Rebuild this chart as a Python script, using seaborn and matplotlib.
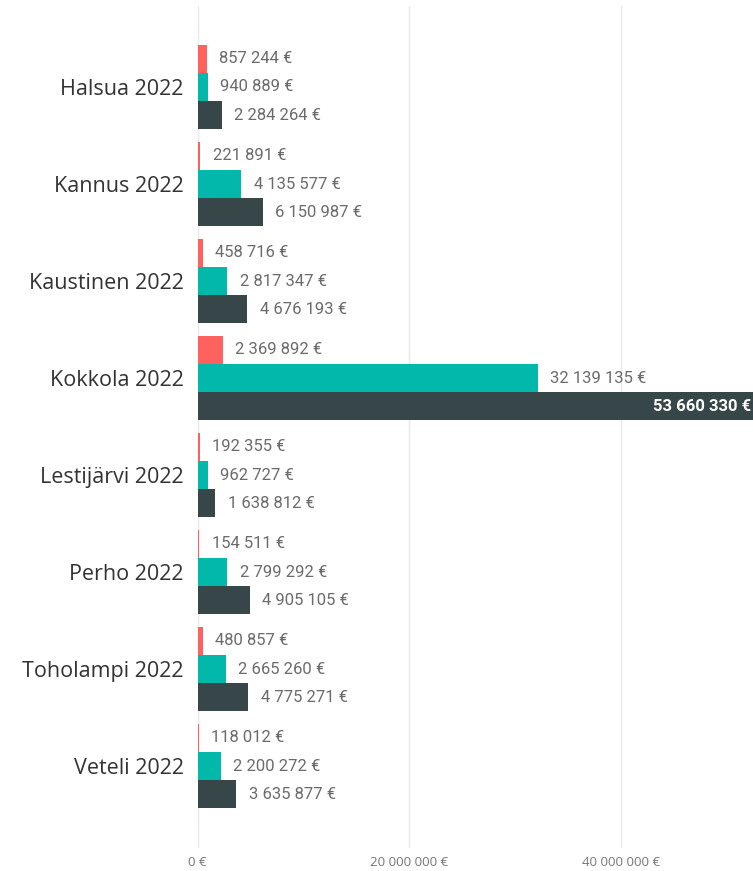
import matplotlib
matplotlib.use("Agg")
import matplotlib.pyplot as plt
import seaborn as sns
import pandas as pd

categories = ["Halsua 2022", "Kannus 2022", "Kaustinen 2022", "Kokkola 2022",
              "Lestijärvi 2022", "Perho 2022", "Toholampi 2022", "Veteli 2022"]
series_names = ["Sarja 1", "Sarja 2", "Sarja 3"]
series1 = [857244, 221891, 458716, 2369892, 192355, 154511, 480857, 118012]
series2 = [940889, 4135577, 2817347, 32139135, 962727, 2799292, 2665260, 2200272]
series3 = [2284264, 6150987, 4676193, 53660330, 1638812, 4905105, 4775271, 3635877]
x_ticks = [0, 20000000, 40000000]
x_max = 52500000
colors = ["#FD625E", "#01B8AA", "#374649"]

rows = []
for name, vals in zip(series_names, [series1, series2, series3]):
    for c, v in zip(categories, vals):
        rows.append({"kunta": c, "sarja": name, "arvo": v})
df = pd.DataFrame(rows)

sns.set_theme(style="white")
plt.rcParams["font.family"] = ["Open Sans", "DejaVu Sans"]

def fmt(v):
    return f"{v:,.0f}".replace(",", " ") + " €"

fig = plt.figure(figsize=(7.53, 8.71), dpi=100)
ax = fig.add_axes([197.7 / 753, 1 - 848 / 871, 1 - 197.7 / 753, (848 - 6) / 871])

sns.barplot(data=df, y="kunta", x="arvo", hue="sarja", order=categories,
            hue_order=series_names, palette=colors, orient="h", width=0.875,
            saturation=1, ax=ax, legend=False, linewidth=0, errorbar=None)

ax.set_xlim(0, x_max)
ax.set_ylim(7.845, -0.835)
ax.set_xticks(x_ticks)
ax.set_xticklabels([fmt(t) for t in x_ticks], fontsize=9.5, color="#777777",
                   family=["Open Sans", "DejaVu Sans"])
ax.tick_params(axis="x", length=0, pad=6)
ax.tick_params(axis="y", length=0, pad=10, labelsize=15.5, labelcolor="#333333")
ax.set_xlabel("")
ax.set_ylabel("")
for s in ax.spines.values():
    s.set_visible(False)
ax.grid(axis="x", color="#e8e8e8", linewidth=1)
ax.set_axisbelow(True)

for cont in ax.containers:
    for bar in cont:
        v = bar.get_width()
        yc = bar.get_y() + bar.get_height() / 2
        if v > x_max:
            ax.annotate(fmt(v), (x_max, yc), xytext=(-1, 0), textcoords="offset points",
                        ha="right", va="center", fontsize=12, color="white",
                        fontweight="bold", family=["Roboto", "DejaVu Sans"])
        else:
            ax.annotate(fmt(v), (v, yc), xytext=(9, 0), textcoords="offset points",
                        ha="left", va="center", fontsize=12, color="#6b6b6b",
                        family=["Roboto", "DejaVu Sans"])

fig.savefig("out.png", dpi=100)
